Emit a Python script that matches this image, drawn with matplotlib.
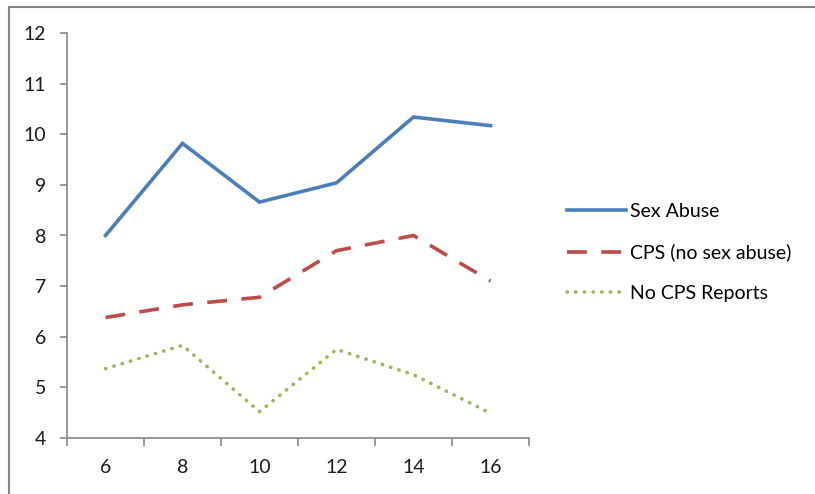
import matplotlib.pyplot as plt
from matplotlib.patches import Rectangle

ages = ["6", "8", "10", "12", "14", "16"]
sex_abuse = [8.0, 9.82, 8.66, 9.04, 10.34, 10.17]
cps_no_sex_abuse = [6.38, 6.63, 6.78, 7.70, 8.0, 7.10]
no_cps_reports = [5.37, 5.83, 4.52, 5.75, 5.25, 4.49]

plt.rcParams['font.family'] = ['Lato', 'DejaVu Sans']
axis_grey = '#868686'

fig = plt.figure(figsize=(8.15, 4.94), dpi=100)
ax = fig.add_axes([67 / 815, 56 / 494, 462 / 815, 405 / 494])

# outer chart border, runs off the right and bottom edge
fig.patches.append(Rectangle((9 / 815, -0.05), 1.1, 1 - 7 / 494 + 0.05,
                             transform=fig.transFigure, fill=False,
                             edgecolor=axis_grey, linewidth=1.5))

x = range(len(ages))
ax.plot(x, sex_abuse, color='#4A7EBB', lw=2.6, label='Sex Abuse',
        solid_joinstyle='miter')
ax.plot(x, cps_no_sex_abuse, color='#BE4B48', lw=2.6, label='CPS (no sex abuse)',
        linestyle=(0, (5.5, 4)))
ax.plot(x, no_cps_reports, color='#98B954', lw=2.6, label='No CPS Reports',
        linestyle=(0, (0.1, 2.3)), dash_capstyle='round')

ax.set_xlim(-0.5, len(ages) - 0.5)
ax.set_ylim(4, 12)
ax.set_yticks(range(4, 13))
ax.set_xticks(x)
ax.set_xticklabels(ages)
ax.set_xticks([i - 0.5 for i in range(len(ages) + 1)], minor=True)

for s in ['top', 'right']:
    ax.spines[s].set_visible(False)
for s in ['left', 'bottom']:
    ax.spines[s].set_color(axis_grey)
    ax.spines[s].set_linewidth(1.2)

ax.tick_params(axis='y', direction='out', length=5, width=1.2, color=axis_grey,
               labelsize=14, pad=10, labelcolor='#1a1a1a')
ax.tick_params(axis='x', which='major', length=0, labelsize=14, pad=15,
               labelcolor='#1a1a1a')
ax.tick_params(axis='x', which='minor', direction='out', length=6, width=1.2,
               color=axis_grey)

ax.legend(loc='center left', bbox_to_anchor=(1.045, 0.458), frameon=False,
          fontsize=14, handlelength=3.0, handletextpad=0.2, labelspacing=1.2)

fig.savefig('out.png', dpi=100)
